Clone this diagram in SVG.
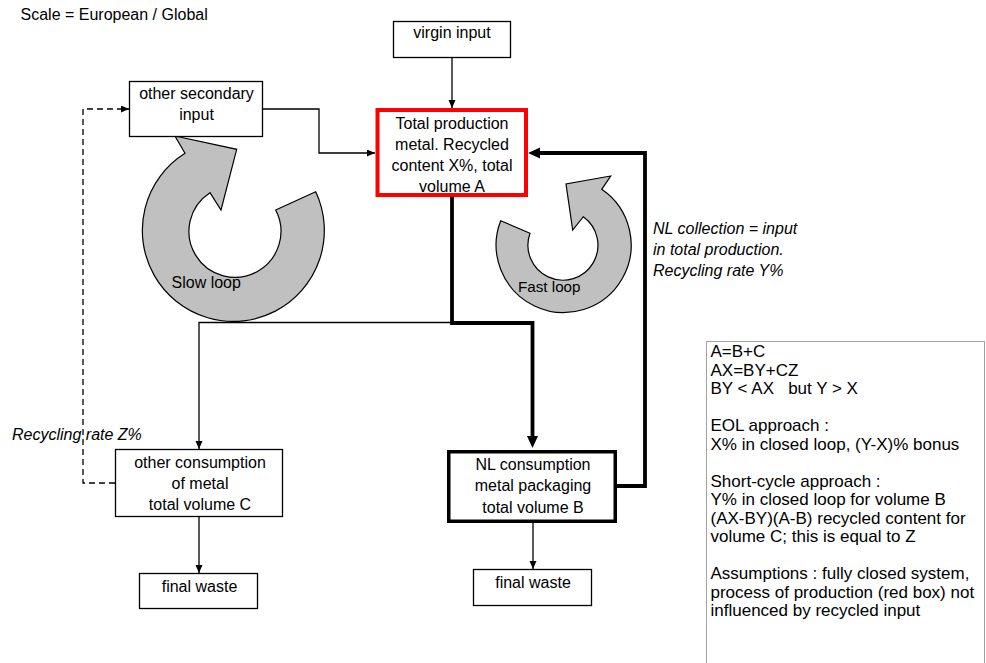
<svg xmlns="http://www.w3.org/2000/svg" width="986" height="663" viewBox="0 0 986 663">
  <style>
    text { font-family: "Liberation Sans", Arial, sans-serif; fill: #000; }
    .lbl { font-size: 16px; text-anchor: middle; }
    .it { font-size: 16px; font-style: italic; }
    .note { font-size: 17px; }
    .box { fill: #fff; stroke: #000; stroke-width: 1.3; }
    .thin { fill: none; stroke: #000; stroke-width: 1.3; }
    .thick { fill: none; stroke: #000; stroke-width: 3.8; }
    .dash { fill: none; stroke: #000; stroke-width: 1.3; stroke-dasharray: 6 4; }
    .loop { fill: #c0c0c0; stroke: #000; stroke-width: 1.2; }
  </style>
  <defs>
    <marker id="arr" markerUnits="userSpaceOnUse" markerWidth="10" markerHeight="8" refX="8" refY="3.5" orient="auto">
      <path d="M0,0 L8,3.5 L0,7 z" fill="#000"/>
    </marker>
    <marker id="arrThick" markerUnits="userSpaceOnUse" markerWidth="14" markerHeight="12" refX="6" refY="5.5" orient="auto">
      <path d="M0,0 L12,5.5 L0,11 z" fill="#000"/>
    </marker>
  </defs>

  <rect width="986" height="663" fill="#fff"/>

  <text x="20.5" y="20" style="font-size:16px">Scale = European / Global</text>

  <!-- circular loop arrows -->
  <g id="slow-loop">
    <path class="loop" d="M315.7,191.7 A91,91 0 1 1 185,153.3 L175,136 L236.7,149.3 L221,210 L210,192.7 A46,46 0 1 0 275.7,210 Z"/>
    <text x="171.5" y="288" style="font-size:16px">Slow loop</text>
  </g>
  <g id="fast-loop">
    <path class="loop" d="M500.7,220.7 A67.5,67.5 0 1 0 601.7,189.3 L610.7,176 L566,184 L572.7,230 L583.3,216.7 A35,35 0 1 1 530,233.3 Z"/>
    <text x="518" y="292" style="font-size:15.2px">Fast loop</text>
  </g>

  <!-- connectors -->
  <g id="connectors">
    <path class="thin" d="M452,58 V108" marker-end="url(#arr)"/>
    <path class="thin" d="M263,109 H319 V153 H375" marker-end="url(#arr)"/>
    <path class="thin" d="M452,322.5 H199 V449" marker-end="url(#arr)"/>
    <path class="thick" d="M452,197 V323 H532.5 V442" marker-end="url(#arrThick)"/>
    <path class="thick" d="M617,486 H645 V153 H534" marker-end="url(#arrThick)"/>
    <path class="thin" d="M199,517 V573" marker-end="url(#arr)"/>
    <path class="thin" d="M533,523 V569" marker-end="url(#arr)"/>
    <path class="dash" d="M115,483 H83 V109 H129" marker-end="url(#arr)"/>
    <text class="it" x="12" y="440">Recycling rate Z%</text>
    <text class="it" x="653" y="234">NL collection = input</text>
    <text class="it" x="653" y="255">in total production.</text>
    <text class="it" x="653" y="276">Recycling rate Y%</text>
  </g>

  <!-- nodes -->
  <g id="virgin-input">
    <rect class="box" x="393.5" y="21.5" width="117" height="36"/>
    <text class="lbl" x="452" y="38">virgin input</text>
  </g>
  <g id="other-secondary-input">
    <rect class="box" x="129.5" y="81.5" width="133" height="55"/>
    <text class="lbl" x="196.5" y="99">other secondary</text>
    <text class="lbl" x="196.5" y="120">input</text>
  </g>
  <g id="total-production">
    <rect x="377.5" y="110" width="148.5" height="85" fill="#fff" stroke="#ff0000" stroke-width="4"/>
    <text class="lbl" x="452" y="129">Total production</text>
    <text class="lbl" x="452" y="150">metal. Recycled</text>
    <text class="lbl" x="452" y="171">content X%, total</text>
    <text class="lbl" x="452" y="192">volume A</text>
  </g>
  <g id="other-consumption">
    <rect class="box" x="115.5" y="449.5" width="167" height="67"/>
    <text class="lbl" x="200" y="468">other consumption</text>
    <text class="lbl" x="200" y="489">of metal</text>
    <text class="lbl" x="200" y="510">total volume C</text>
  </g>
  <g id="nl-consumption">
    <rect x="448.75" y="451.75" width="166.5" height="69.5" fill="#fff" stroke="#000" stroke-width="3.5"/>
    <text class="lbl" x="533" y="470">NL consumption</text>
    <text class="lbl" x="533" y="491">metal packaging</text>
    <text class="lbl" x="533" y="512.5">total volume B</text>
  </g>
  <g id="final-waste-other">
    <rect class="box" x="139.5" y="573.5" width="118" height="35"/>
    <text class="lbl" x="199.5" y="591.5">final waste</text>
  </g>
  <g id="final-waste-nl">
    <rect class="box" x="473.5" y="569.5" width="118" height="36"/>
    <text class="lbl" x="533" y="588">final waste</text>
  </g>

  <!-- explanatory notes -->
  <g id="notes">
    <rect x="706.5" y="341.5" width="278" height="340" fill="#fff" stroke="#444" stroke-width="1" stroke-dasharray="1 1"/>
    <text class="note" x="710.5" y="357">A=B+C</text>
    <text class="note" x="710.5" y="375.5">AX=BY+CZ</text>
    <text class="note" x="710.5" y="394" xml:space="preserve">BY &lt; AX   but Y &gt; X</text>
    <text class="note" x="710.5" y="431">EOL approach :</text>
    <text class="note" x="710.5" y="449.5">X% in closed loop, (Y-X)% bonus</text>
    <text class="note" x="710.5" y="486.5">Short-cycle approach :</text>
    <text class="note" x="710.5" y="505">Y% in closed loop for volume B</text>
    <text class="note" x="710.5" y="523.5">(AX-BY)(A-B) recycled content for</text>
    <text class="note" x="710.5" y="542">volume C; this is equal to Z</text>
    <text class="note" x="710.5" y="579">Assumptions : fully closed system,</text>
    <text class="note" x="710.5" y="597.5">process of production (red box) not</text>
    <text class="note" x="710.5" y="616">influenced by recycled input</text>
  </g>
</svg>
